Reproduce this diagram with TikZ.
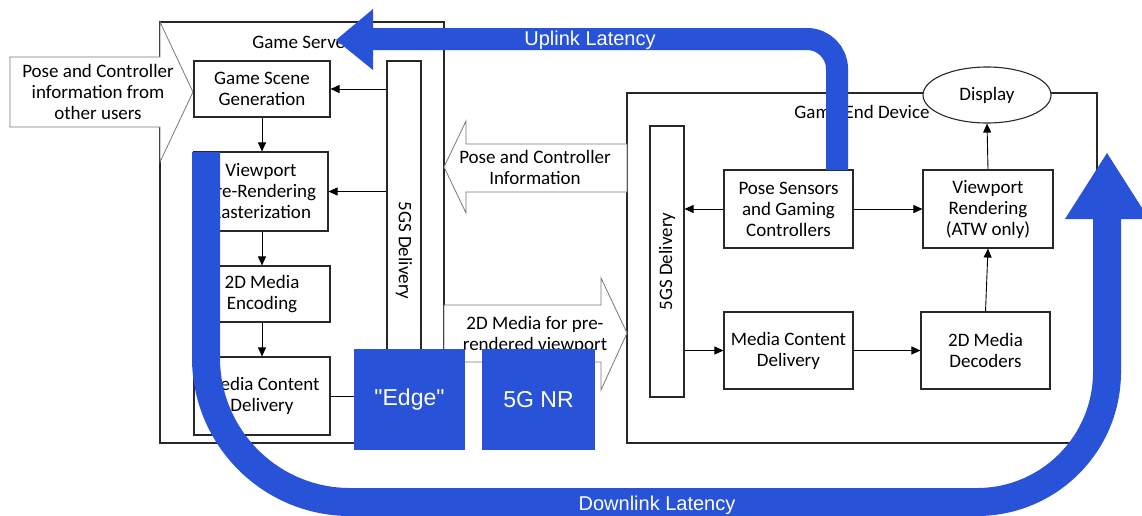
\documentclass[tikz,border=0pt]{standalone}
\usepackage{fontspec}
\setmainfont{Carlito}
\newfontfamily\bandfont[Ligatures=TeXOff]{Liberation Sans}
\usetikzlibrary{arrows.meta,shapes.geometric}

\definecolor{bandblue}{RGB}{40,82,216}
\definecolor{boxline}{RGB}{40,40,40}
\definecolor{hollowline}{RGB}{120,120,120}
\newcommand\lbl{\fontsize{19}{21}\selectfont}

\begin{document}
\begin{tikzpicture}[x=1pt,y=-1pt,
  box/.style={draw=boxline, line width=1.1pt, fill=white, align=center,
              font=\lbl, inner sep=0pt},
  bar/.style={draw=boxline, line width=1.1pt, fill=white, inner sep=0pt},
  arr/.style={draw=black, line width=0.9pt, -{Triangle[length=9pt,width=8pt]}},
  plain/.style={draw=black, line width=0.9pt},
  hollow/.style={draw=hollowline, line width=0.8pt, fill=white},
  bluebox/.style={fill=bandblue, text=white, font=\bandfont\fontsize{23}{26}\selectfont,
                  inner sep=0pt},
  band/.style={draw=bandblue, line cap=butt},
  bandlabel/.style={text=white, font=\bandfont\fontsize{20}{22}\selectfont, inner sep=0pt}
]
\useasboundingbox (0,0) rectangle (1142,515);
\clip (0,0) rectangle (1142,515);

% enclosing frames
\draw[draw=boxline, line width=1.1pt] (160,22) rectangle (444,443);
\draw[draw=boxline, line width=1.1pt] (627,93) rectangle (1097,443);

% hollow block arrows
\path[hollow] (10,57) -- (160,57) -- (160,22) -- (193,92) -- (160,162)
  -- (160,127) -- (10,127) -- cycle;
\node[align=center, font=\lbl] (others) at (98,92)
  {Pose and Controller\\information from\\other users};

\path[hollow] (627,144) -- (466,144) -- (466,121) -- (444,167) -- (466,213)
  -- (466,192) -- (627,192) -- cycle;
\node[align=center, font=\lbl] (poseinfo) at (535,167)
  {Pose and Controller\\Information};

\path[hollow] (444,305) -- (601,305) -- (601,278) -- (627,333) -- (601,390)
  -- (601,362) -- (444,362) -- cycle;
\node[align=center, font=\lbl] (medialbl) at (535,335)
  {2D Media for pre-\\rendered viewport};

% server side
\node[box, minimum width=136pt, minimum height=56pt] (gs) at (262,89)
  {Game Scene\\Generation};
\node[box, minimum width=134pt, minimum height=79pt] (vp) at (261,191.5)
  {Viewport\\Pre-Rendering\\Rasterization};
\node[box, minimum width=136pt, minimum height=56pt] (enc) at (262,294)
  {2D Media\\Encoding};
\node[box, minimum width=136pt, minimum height=78pt] (mcs) at (262,396)
  {Media Content\\Delivery};
\node[bar, minimum width=34pt, minimum height=379pt] (sbar) at (404,250.5) {};
\node[font=\lbl, rotate=-90] at (sbar.center) {5GS Delivery};

\draw[arr] (gs.south) -- (vp.north -| gs.south);
\draw[arr] (vp.south -| gs.south) -- (enc.north);
\draw[arr] (enc.south) -- (mcs.north);
\draw[arr] (sbar.west |- gs.east) -- (gs.east);
\draw[arr] (sbar.west |- vp.east) -- (vp.east);

% device side
\node[bar, minimum width=34pt, minimum height=271pt] (dbar) at (667,261.5) {};
\node[font=\lbl, rotate=90] at (dbar.center) {5GS Delivery};
\node[box, minimum width=129pt, minimum height=78pt] (ps) at (788.5,209)
  {Pose Sensors\\and Gaming\\Controllers};
\node[box, minimum width=130pt, minimum height=78pt] (vr) at (988,209)
  {Viewport\\Rendering\\(ATW only)};
\node[box, minimum width=129pt, minimum height=77pt] (mcd) at (788.5,350.5)
  {Media Content\\Delivery};
\node[box, minimum width=129pt, minimum height=77pt] (dec) at (985.5,350.5)
  {2D Media\\Decoders};
\node[draw=boxline, line width=1.1pt, fill=white, ellipse, inner sep=0pt,
      minimum width=128pt, minimum height=56pt, font=\lbl] (disp) at (987,95)
  {Display};

\draw[arr] (ps.west) -- (dbar.east |- ps.west);
\draw[arr] (ps.east) -- (vr.west);
\draw[arr] (dbar.east |- mcd.west) -- (mcd.west);
\draw[arr] (mcd.east) -- (dec.west);
\draw[arr] (dec.north) -- (vr.south);
\draw[arr] (vr.north) -- (disp.south);

% network blocks
\node[bluebox, minimum width=111pt, minimum height=101pt] (edge) at (409.5,399.5)
  {"Edge"};
\node[bluebox, minimum width=113pt, minimum height=101pt] (nr) at (538.5,399.5)
  {5G NR};
\draw[plain] (mcs.east) -- (mcs.east -| edge.west);

% frame titles
\node[font=\lbl] (srvtitle) at (302,42) {Game Server};
\node[font=\lbl] (devtitle) at (862,112) {Game End Device};

% uplink latency band
\coordinate (upstart) at (837,170);
\draw[band, line width=22pt] (upstart) -- (837,69)
  .. controls (837,52.4) and (823.6,39) .. (807,39) -- (371,39);
\fill[bandblue] (373,9) -- (336,40) -- (373,70) -- cycle;
\node[bandlabel] (uplbl) at (590,40) {Uplink Latency};

% downlink latency band
\draw[band, line width=28pt] (206,152) -- (206,358)
  .. controls (206,437.5) and (270.5,502) .. (350,502) -- (977,502)
  .. controls (1048.8,502) and (1107,443.8) .. (1107,372) -- (1107,217);
\fill[bandblue] (1065,219) -- (1107,153) -- (1149,219) -- cycle;
\node[bandlabel] (downlbl) at (657,505) {Downlink Latency};
\end{tikzpicture}
\end{document}
